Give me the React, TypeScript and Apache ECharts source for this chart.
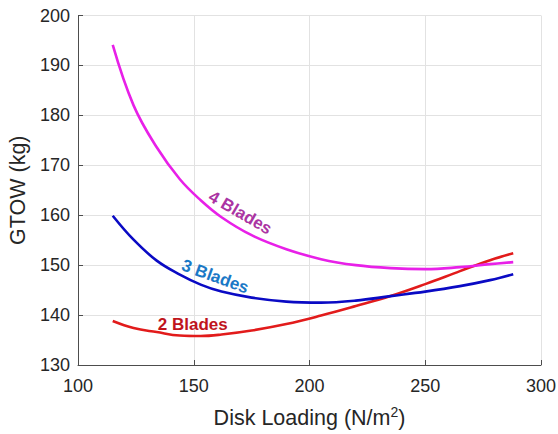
import React, { useEffect, useRef } from "react";
import * as echarts from "echarts";

const diskLoading = [115, 124, 134, 144, 153, 162, 175, 190, 205, 220, 235, 250, 265, 278, 288];
const gtow4Blades = [194.1, 182.0, 173.6, 167.2, 163.0, 159.6, 156.0, 153.2, 151.2, 150.0, 149.4, 149.2, 149.6, 150.2, 150.6];
const gtow3Blades = [159.9, 155.1, 150.9, 148.1, 146.1, 144.7, 143.5, 142.7, 142.5, 142.9, 143.8, 144.7, 145.8, 147.0, 148.2];
const gtow2Blades = [138.8, 137.4, 136.6, 135.9, 135.8, 136.1, 136.9, 138.2, 139.9, 141.8, 143.8, 146.2, 148.8, 151.0, 152.4];

const seriesNames = ["4 Blades", "3 Blades", "2 Blades"];
const lineColors = ["#e820e8", "#0a0ac4", "#e21b1b"];
const labelColors = ["#ab34a3", "#1a78c6", "#c0141c"];
// label anchors in data coordinates [x, y] and rotation in degrees
const labelAnchors: [number, number][] = [[170.1, 160.5], [159.3, 147.7], [149.6, 138.1]];
const labelRotations = [-30, -20, 0];

const xTicks = { min: 100, max: 300, interval: 50 };
const yTicks = { min: 130, max: 200, interval: 10 };

export default function App() {
  const ref = useRef<HTMLDivElement>(null);
  useEffect(() => {
    document.body.style.margin = "0";
    if (!ref.current) return;
    const chart = echarts.init(ref.current, undefined, { renderer: "svg" });
    const all = [gtow4Blades, gtow3Blades, gtow2Blades];
    const axisColor = "#4d4d4d";
    const font = "Liberation Sans, Arial, sans-serif";
    chart.setOption({
      animation: false,
      grid: { left: 78, right: 17, top: 15.5, bottom: 69, containLabel: false, outerBoundsMode: "none" },
      xAxis: {
        type: "value",
        min: xTicks.min,
        max: xTicks.max,
        interval: xTicks.interval,
        name: "Disk Loading (N/m{sup|2})",
        nameLocation: "middle",
        nameGap: 40,
        nameTextStyle: {
          fontSize: 21.5,
          color: "#262626",
          fontFamily: font,
          lineHeight: 26,
          rich: {
            sup: { fontSize: 14, color: "#262626", fontFamily: font, verticalAlign: "top", lineHeight: 14 },
          },
        },
        axisLine: { show: true, onZero: false, lineStyle: { color: axisColor, width: 1 } },
        axisTick: { show: true, inside: true, length: 5, lineStyle: { color: axisColor } },
        axisLabel: { fontSize: 18, color: "#262626", fontFamily: font, margin: 12 },
        splitLine: { show: true, lineStyle: { color: "#e2e2e2", width: 1 } },
      },
      yAxis: {
        type: "value",
        min: yTicks.min,
        max: yTicks.max,
        interval: yTicks.interval,
        name: "GTOW (kg)",
        nameLocation: "middle",
        nameGap: 45,
        nameTextStyle: { fontSize: 21.5, color: "#262626", fontFamily: font },
        axisLine: { show: true, onZero: false, lineStyle: { color: axisColor, width: 1 } },
        axisTick: { show: true, inside: true, length: 5, lineStyle: { color: axisColor } },
        axisLabel: { fontSize: 18, color: "#262626", fontFamily: font, margin: 8 },
        splitLine: { show: true, lineStyle: { color: "#e2e2e2", width: 1 } },
      },
      series: all.map((ys, i) => ({
        name: seriesNames[i],
        type: "line",
        smooth: 0.4,
        showSymbol: false,
        symbol: "none",
        lineStyle: { color: lineColors[i], width: 2.6 },
        data: diskLoading.map((x, j) => [x, ys[j]]),
        z: 3 - i,
      })),
    });
    const graphics = seriesNames.map((name, i) => {
      const p = chart.convertToPixel({ gridIndex: 0 }, labelAnchors[i]) as number[];
      return {
        type: "text",
        x: p[0],
        y: p[1],
        rotation: (labelRotations[i] * Math.PI) / 180,
        style: {
          text: name,
          fill: labelColors[i],
          font: `bold 17px ${font}`,
          align: "center",
          verticalAlign: "middle",
        },
        z: 10,
      };
    });
    chart.setOption({ graphic: graphics });
    return () => chart.dispose();
  }, []);
  return <div ref={ref} style={{ width: 558, height: 434 }} />;
}
